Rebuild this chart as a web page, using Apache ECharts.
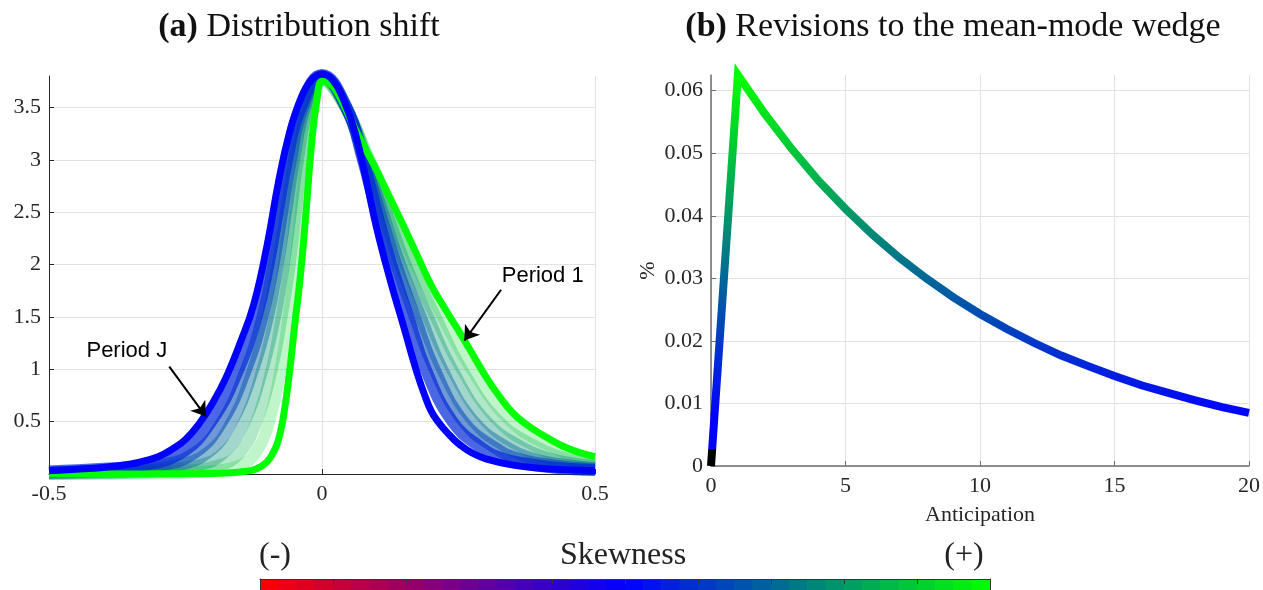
<!DOCTYPE html>
<html>
<head>
<meta charset="utf-8">
<script src="https://cdn.jsdelivr.net/npm/echarts@6/dist/echarts.min.js"></script>
<style>
  html, body { margin: 0; padding: 0; background: #ffffff; }
  #chart { width: 1263px; height: 590px; }
</style>
</head>
<body>
<div id="chart"></div>
<script>
// ---- Panel (a): density of the distribution, from period 1 to period J ----
const shiftTicks = [-0.5, 0, 0.5];
const densityTicks = [0.5, 1, 1.5, 2, 2.5, 3, 3.5];

const densityPeriod1 = [[-0.5,0],[-0.45,0],[-0.4,0],[-0.35,0],[-0.3,0.002],[-0.25,0.003],[-0.2,0.005],[-0.175,0.01],[-0.15,0.02],[-0.125,0.04],[-0.1125,0.07],[-0.1,0.12],[-0.09,0.2],[-0.08,0.32],[-0.07,0.57],[-0.06,0.95],[-0.05,1.42],[-0.04,1.87],[-0.03,2.45],[-0.02,3.1],[-0.01,3.55],[0,3.75],[0.01,3.74],[0.02,3.7],[0.03,3.62],[0.04,3.52],[0.06,3.3],[0.08,3.1],[0.1,2.9],[0.125,2.63],[0.15,2.36],[0.175,2.08],[0.2,1.8],[0.225,1.58],[0.25,1.37],[0.275,1.15],[0.3,0.93],[0.325,0.74],[0.35,0.58],[0.375,0.47],[0.4,0.385],[0.45,0.245],[0.5,0.165]];

const densityMid1 = [[-0.5,0.001],[-0.4,0.002],[-0.3,0.005],[-0.199,0.03],[-0.151,0.08],[-0.122,0.2],[-0.097,0.5],[-0.076,1.0],[-0.061,1.5],[-0.049,2.0],[-0.039,2.5],[-0.029,3.0],[-0.016,3.5],[0,3.76],[0.043,3.5],[0.087,3.0],[0.131,2.5],[0.172,2.0],[0.221,1.5],[0.274,1.0],[0.347,0.5],[0.425,0.25],[0.478,0.15],[0.5,0.128]];
const densityMid2 = [[-0.5,0.003],[-0.4,0.007],[-0.26,0.03],[-0.19,0.08],[-0.151,0.2],[-0.12,0.5],[-0.092,1.0],[-0.074,1.5],[-0.059,2.0],[-0.048,2.5],[-0.037,3.0],[-0.021,3.5],[0,3.77],[0.043,3.5],[0.085,3.0],[0.124,2.5],[0.163,2.0],[0.208,1.5],[0.256,1.0],[0.324,0.5],[0.396,0.25],[0.446,0.15],[0.5,0.096]];
const densityMid3 = [[-0.5,0.007],[-0.4,0.015],[-0.322,0.03],[-0.229,0.08],[-0.181,0.2],[-0.142,0.5],[-0.109,1.0],[-0.086,1.5],[-0.07,2.0],[-0.057,2.5],[-0.044,3.0],[-0.026,3.5],[0,3.78],[0.044,3.5],[0.082,3.0],[0.118,2.5],[0.153,2.0],[0.194,1.5],[0.238,1.0],[0.301,0.5],[0.368,0.25],[0.415,0.15],[0.46,0.1],[0.5,0.075]];
const densityMid4 = [[-0.5,0.012],[-0.4,0.027],[-0.33,0.045],[-0.269,0.08],[-0.21,0.2],[-0.165,0.5],[-0.126,1.0],[-0.099,1.5],[-0.081,2.0],[-0.066,2.5],[-0.051,3.0],[-0.031,3.5],[0,3.79],[0.044,3.5],[0.079,3.0],[0.111,2.5],[0.143,2.0],[0.181,1.5],[0.22,1.0],[0.278,0.5],[0.34,0.25],[0.383,0.15],[0.426,0.1],[0.5,0.055]];
const densityMid5 = [[-0.5,0.017],[-0.4,0.036],[-0.3,0.08],[-0.234,0.2],[-0.183,0.5],[-0.139,1.0],[-0.109,1.5],[-0.089,2.0],[-0.073,2.5],[-0.057,3.0],[-0.035,3.5],[0,3.8],[0.044,3.5],[0.077,3.0],[0.106,2.5],[0.136,2.0],[0.17,1.5],[0.206,1.0],[0.259,0.5],[0.317,0.25],[0.357,0.15],[0.4,0.1],[0.459,0.06],[0.5,0.046]];
const densityMid6 = [[-0.5,0.024],[-0.4,0.05],[-0.334,0.08],[-0.259,0.2],[-0.203,0.5],[-0.153,1.0],[-0.12,1.5],[-0.098,2.0],[-0.081,2.5],[-0.064,3.0],[-0.039,3.5],[0,3.81],[0.045,3.5],[0.075,3.0],[0.1,2.5],[0.127,2.0],[0.158,1.5],[0.19,1.0],[0.239,0.5],[0.292,0.25],[0.33,0.15],[0.371,0.1],[0.428,0.06],[0.5,0.037]];

const densityPeriodJ = [[-0.5,0.032],[-0.45,0.045],[-0.4,0.063],[-0.35,0.095],[-0.325,0.125],[-0.3,0.165],[-0.275,0.235],[-0.25,0.33],[-0.225,0.48],[-0.2,0.68],[-0.175,0.93],[-0.15,1.25],[-0.125,1.62],[-0.1,2.2],[-0.08,2.78],[-0.06,3.25],[-0.04,3.57],[-0.02,3.76],[0,3.82],[0.02,3.76],[0.04,3.57],[0.06,3.27],[0.08,2.83],[0.1,2.35],[0.125,1.85],[0.15,1.4],[0.1625,1.17],[0.175,0.95],[0.1875,0.76],[0.2,0.6],[0.2125,0.5],[0.225,0.42],[0.2375,0.35],[0.25,0.29],[0.275,0.2],[0.3,0.145],[0.35,0.085],[0.4,0.055],[0.45,0.04],[0.5,0.032]];

// ---- Panel (b): revisions to the mean-mode wedge by anticipation horizon ----
const anticipationTicks = [0, 5, 10, 15, 20];
const wedgeTicks = [0, 0.01, 0.02, 0.03, 0.04, 0.05, 0.06];
const anticipation = [0, 1, 2, 3, 4, 5, 6, 7, 8, 9, 10, 11, 12, 13, 14, 15, 16, 17, 18, 19, 20];
const wedgeRevision = [0, 0.0625, 0.0563, 0.0507, 0.0456, 0.0411, 0.0370, 0.0333, 0.0300, 0.0270, 0.0243, 0.0219, 0.0197, 0.0177, 0.0160, 0.0144, 0.0129, 0.0117, 0.0105, 0.0094, 0.0085];

// ---- styling ----
const SERIF = '"Liberation Serif", "Times New Roman", serif';
const SANS = '"Liberation Sans", Arial, sans-serif';
const INK = '#262626';
const GRIDLINE = '#e2e2e2';
const CELLS = 40;

// red -> blue -> green skewness colour scale, u in [0, 1]
function skewColor(u, alpha) {
  let r, g, b;
  if (u < 0.5) { const s = u / 0.5; r = 255 * (1 - s); g = 0; b = 255 * s; }
  else { const s = (u - 0.5) / 0.5; r = 0; g = 255 * s; b = 255 * (1 - s); }
  const a = alpha === undefined ? 1 : alpha;
  return 'rgba(' + Math.round(r) + ',' + Math.round(g) + ',' + Math.round(b) + ',' + a + ')';
}

// colour stops for the wedge path: flat blue up to ~0.01, then blue -> green
function wedgeStops() {
  const stops = [];
  const n = 9;
  for (let k = 0; k < n; k++) {
    const s = k === 0 ? 0 : (k - 1) / (n - 2);
    stops.push(skewColor(0.5 + 0.5 * s));
  }
  return stops;
}

function densityLine(data, u, alpha, width, z) {
  return {
    type: 'line', xAxisIndex: 0, yAxisIndex: 0, data: data,
    smooth: 0.45, showSymbol: false, clip: false, silent: true, z: z,
    lineStyle: { color: skewColor(u, alpha), width: width, cap: 'butt' }
  };
}

const chart = echarts.init(document.getElementById('chart'));

const midCurves = [
  [densityMid1, 0.925, 0.25],
  [densityMid2, 0.85, 0.3],
  [densityMid3, 0.775, 0.36],
  [densityMid4, 0.70, 0.45],
  [densityMid5, 0.64, 0.56],
  [densityMid6, 0.575, 0.7]
];

const series = midCurves.map(function (c) { return densityLine(c[0], c[1], c[2], 12, 2); });

const arrowLine = { color: '#000', width: 2, type: 'solid' };
const noteLabel = { show: true, position: 'inside', formatter: '{b}', fontFamily: SANS, fontSize: 22, color: '#000' };

const green = densityLine(densityPeriod1, 1, 1, 7, 3);
green.markLine = {
  silent: true, symbol: ['none', 'arrow'], symbolSize: 14, animation: false,
  label: { show: false }, lineStyle: arrowLine,
  data: [[{ coord: [0.328, 1.759] }, { coord: [0.2607, 1.274] }]]
};
green.markPoint = {
  silent: true, symbol: 'circle', symbolSize: 1, itemStyle: { color: 'rgba(0,0,0,0)' },
  label: noteLabel, data: [{ name: 'Period 1', coord: [0.4042, 1.888] }]
};
series.push(green);

const blue = densityLine(densityPeriodJ, 0.5, 1, 7, 3);
blue.markLine = {
  silent: true, symbol: ['none', 'arrow'], symbolSize: 14, animation: false,
  label: { show: false }, lineStyle: arrowLine,
  data: [[{ coord: [-0.2797, 1.026] }, { coord: [-0.2125, 0.548] }]]
};
blue.markPoint = {
  silent: true, symbol: 'circle', symbolSize: 1, itemStyle: { color: 'rgba(0,0,0,0)' },
  label: noteLabel, data: [{ name: 'Period J', coord: [-0.3575, 1.171] }]
};
series.push(blue);

// index 8: the wedge path, coloured by its level
series.push({
  type: 'line', xAxisIndex: 1, yAxisIndex: 1,
  data: anticipation.map(function (h, i) { return [h, wedgeRevision[i]]; }),
  showSymbol: false, clip: false, silent: true,
  lineStyle: { width: 8, join: 'miter', cap: 'butt' }
});

// index 9: colour bar cells
series.push({
  type: 'bar', xAxisIndex: 2, yAxisIndex: 2, silent: true, z: 1,
  data: Array.from({ length: CELLS }, function () { return 1; }),
  barWidth: 19, barGap: '0%',
  itemStyle: { color: function (p) { return skewColor((p.dataIndex + 0.5) / CELLS); } }
});

function valueAxis(extra) {
  return Object.assign({
    type: 'value',
    axisLine: { show: true, onZero: false, lineStyle: { color: INK, width: 1 } },
    axisTick: { show: true, inside: true, length: 5, lineStyle: { color: INK } },
    axisLabel: { fontFamily: SERIF, fontSize: 22, color: INK, margin: 9 },
    splitLine: { show: true, lineStyle: { color: GRIDLINE, width: 1 } }
  }, extra);
}

const option = {
  animation: false,
  grid: [
    { left: 49, top: 76, width: 546, height: 398 },
    { left: 711, top: 75, width: 541, height: 391 },
    { left: 260, top: 579, width: 730, height: 16 }
  ],
  xAxis: [
    valueAxis({ gridIndex: 0, min: -0.5, max: 0.5, interval: 0.5,
      axisTick: { show: true, inside: true, length: 5, lineStyle: { color: INK }, customValues: shiftTicks },
      axisLabel: { fontFamily: SERIF, fontSize: 22, color: INK, margin: 9, customValues: shiftTicks } }),
    valueAxis({ gridIndex: 1, min: 0, max: 20, interval: 5,
      axisLine: { show: true, onZero: false, lineStyle: { color: '#6e6e6e', width: 1.5 } },
      axisTick: { show: true, inside: true, length: 5, lineStyle: { color: '#6e6e6e' }, customValues: anticipationTicks },
      axisLabel: { fontFamily: SERIF, fontSize: 22, color: INK, margin: 9, customValues: anticipationTicks },
      name: 'Anticipation', nameLocation: 'middle', nameGap: 38,
      nameTextStyle: { fontFamily: SERIF, fontSize: 22, color: INK } }),
    { gridIndex: 2, type: 'category', position: 'top', boundaryGap: true,
      data: Array.from({ length: CELLS }, function (_, i) { return String(i); }),
      axisLine: { show: false }, axisTick: { show: false },
      axisLabel: { show: false }, splitLine: { show: false } },
    // division marks along the top edge of the colour bar
    { gridIndex: 2, type: 'value', position: 'top', min: 0, max: 10, interval: 1, z: 10,
      axisLine: { show: true, onZero: false, lineStyle: { color: '#333', width: 1 } },
      axisTick: { show: true, inside: true, length: 5, lineStyle: { color: '#333', width: 1 } },
      axisLabel: { show: false }, splitLine: { show: false } }
  ],
  yAxis: [
    valueAxis({ gridIndex: 0, min: 0, max: 3.8, interval: 0.5,
      axisTick: { show: true, inside: true, length: 5, lineStyle: { color: INK }, customValues: densityTicks },
      axisLabel: { fontFamily: SERIF, fontSize: 22, color: INK, margin: 8, customValues: densityTicks } }),
    valueAxis({ gridIndex: 1, min: 0, max: 0.0625, interval: 0.01,
      axisLine: { show: true, onZero: false, lineStyle: { color: '#6e6e6e', width: 1.5 } },
      axisTick: { show: true, inside: true, length: 5, lineStyle: { color: '#6e6e6e' }, customValues: wedgeTicks },
      axisLabel: { fontFamily: SERIF, fontSize: 22, color: INK, margin: 8, customValues: wedgeTicks },
      name: '%', nameLocation: 'middle', nameGap: 52, nameRotate: 90,
      nameTextStyle: { fontFamily: SERIF, fontSize: 22, color: INK } }),
    { gridIndex: 2, type: 'value', min: 0, max: 1, position: 'left', z: 10,
      axisLine: { show: true, onZero: false, lineStyle: { color: '#333', width: 1 } },
      axisTick: { show: false }, axisLabel: { show: false }, splitLine: { show: false } },
    { gridIndex: 2, type: 'value', min: 0, max: 1, position: 'right', z: 10,
      axisLine: { show: true, onZero: false, lineStyle: { color: '#333', width: 1 } },
      axisTick: { show: false }, axisLabel: { show: false }, splitLine: { show: false } }
  ],
  visualMap: [{
    type: 'continuous', show: false, seriesIndex: 8, dimension: 1,
    min: 0, max: 0.0625, range: [0.0027, 0.0625],
    inRange: { color: wedgeStops() },
    outOfRange: { color: '#000000' }
  }],
  graphic: [
    { type: 'text', x: 299, y: 27, silent: true,
      style: { text: '{b|(a)} Distribution shift', fontFamily: SERIF, fontSize: 34, fill: '#111',
        align: 'center', verticalAlign: 'middle', textAlign: 'center', textVerticalAlign: 'middle',
        rich: { b: { fontFamily: SERIF, fontSize: 34, fontWeight: 'bold', fill: '#111' } } } },
    { type: 'text', x: 953, y: 27, silent: true,
      style: { text: '{b|(b)} Revisions to the mean-mode wedge', fontFamily: SERIF, fontSize: 34, fill: '#111',
        align: 'center', verticalAlign: 'middle', textAlign: 'center', textVerticalAlign: 'middle',
        rich: { b: { fontFamily: SERIF, fontSize: 34, fontWeight: 'bold', fill: '#111' } } } },
    { type: 'text', x: 275, y: 556, silent: true,
      style: { text: '(-)', fontFamily: SERIF, fontSize: 32, fill: '#222',
        align: 'center', verticalAlign: 'middle', textAlign: 'center', textVerticalAlign: 'middle' } },
    { type: 'text', x: 623, y: 556, silent: true,
      style: { text: 'Skewness', fontFamily: SERIF, fontSize: 32, fill: '#222',
        align: 'center', verticalAlign: 'middle', textAlign: 'center', textVerticalAlign: 'middle' } },
    { type: 'text', x: 964, y: 556, silent: true,
      style: { text: '(+)', fontFamily: SERIF, fontSize: 32, fill: '#222',
        align: 'center', verticalAlign: 'middle', textAlign: 'center', textVerticalAlign: 'middle' } }
  ],
  series: series
};

chart.setOption(option);
</script>
</body>
</html>
